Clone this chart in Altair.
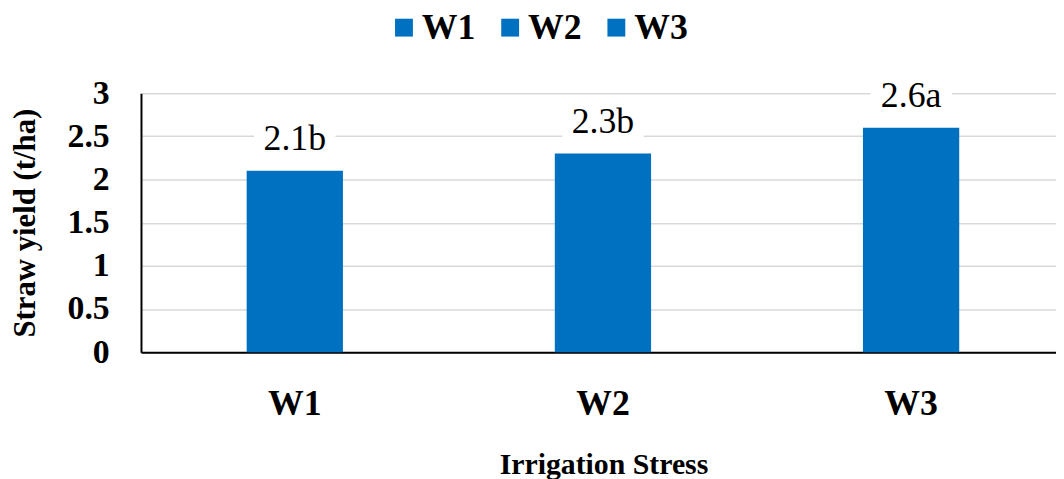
import altair as alt
import pandas as pd

categories = ["W1", "W2", "W3"]
values = [2.1, 2.3, 2.6]
labels = ["2.1b", "2.3b", "2.6a"]
y_ticks = [0, 0.5, 1, 1.5, 2, 2.5, 3]

df = pd.DataFrame({"cat": categories, "val": values, "lab": labels})

FONT = "Liberation Serif"
BLUE = "#0070C0"

x_enc = alt.X(
    "cat:N",
    sort=categories,
    title="Irrigation Stress",
    scale=alt.Scale(type="band", paddingInner=0.6876, paddingOuter=0.3285, align=0.522),
    axis=alt.Axis(
        labelAngle=0, labelFont=FONT, labelFontSize=36, labelFontWeight="bold",
        labelColor="black", labelPadding=35, ticks=False,
        domainColor="black", domainWidth=2,
        titleFont=FONT, titleFontSize=30, titleFontWeight="bold",
        titleColor="black", titlePadding=28, titleX=466,
    ),
)
y_enc = alt.Y(
    "val:Q",
    title="Straw yield (t/ha)",
    scale=alt.Scale(domain=[0, 3], nice=False),
    axis=alt.Axis(
        values=y_ticks, format=".1~f", labelFont=FONT, labelFontSize=34,
        labelFontWeight="bold", labelColor="black", labelPadding=32, ticks=False,
        domainColor="black", domainWidth=2,
        gridColor="#d9d9d9", gridWidth=1.5,
        titleFont=FONT, titleFontSize=31, titleFontWeight="bold",
        titleColor="black", titlePadding=26,
    ),
)

base = alt.Chart(df)

bars = base.mark_bar(size=97).encode(
    x=x_enc,
    y=y_enc,
    color=alt.Color(
        "cat:N",
        sort=categories,
        scale=alt.Scale(domain=categories, range=[BLUE, BLUE, BLUE]),
        legend=alt.Legend(
            title=None, orient="none", direction="horizontal",
            legendX=247, legendY=-84, symbolType="square", symbolSize=324,
            symbolStrokeWidth=0, labelFont=FONT, labelFontSize=36,
            labelFontWeight="bold", labelColor="black", labelOffset=0,
            columnPadding=17, padding=0,
        ),
    ),
)

box = base.mark_point(
    shape="M-1,-0.44H1V0.44H-1Z", size=82 * 82, filled=True, color="white",
    opacity=1, strokeWidth=0, yOffset=-33,
).encode(x=x_enc, y=y_enc)

text = base.mark_text(
    font=FONT, fontSize=36, color="black", baseline="alphabetic", dy=-21,
).encode(x=x_enc, y=y_enc, text="lab:N")

chart = (
    alt.layer(bars, box, text)
    .properties(
        width=922, height=261, autosize="none",
        padding={"left": 134, "top": 84, "right": 0, "bottom": 126},
    )
    .configure_view(stroke=None)
)

chart.save("out.html", embed_options={"renderer": "svg", "actions": False})
